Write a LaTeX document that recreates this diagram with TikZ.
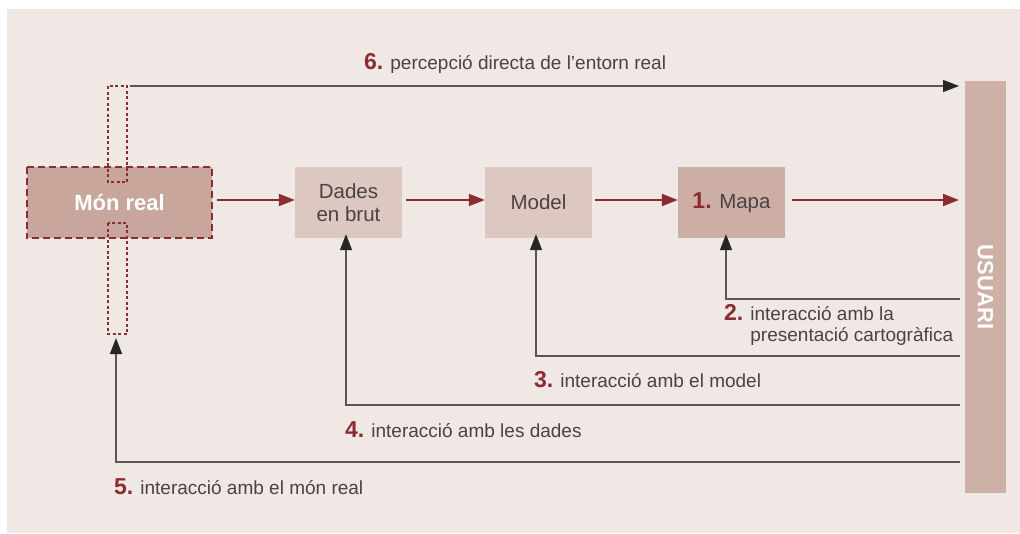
\documentclass[tikz,border=0pt]{standalone}
\usepackage{fontspec}
\setmainfont{Liberation Sans}
\usetikzlibrary{arrows.meta}
\definecolor{panel}{HTML}{F0E8E5}
\definecolor{monfill}{HTML}{C8A69B}
\definecolor{boxfill}{HTML}{DCC8C0}
\definecolor{mapfill}{HTML}{CDAEA5}
\definecolor{usrfill}{HTML}{CDB0A6}
\definecolor{redc}{HTML}{8B2C33}
\definecolor{linec}{HTML}{5A5556}
\definecolor{txtc}{HTML}{4A4244}
\begin{document}
\begin{tikzpicture}[x=1pt,y=-1pt,
  stepbox/.style={draw=none,fill=boxfill,minimum width=107pt,minimum height=71pt,inner sep=0pt,align=center,text=txtc,font=\fontsize{20.5}{23}\selectfont},
  redarrow/.style={draw=redc,line width=2pt,-{Triangle[length=16pt,width=12pt]}},
  grayarrow/.style={draw=linec,line width=1.5pt,-{Triangle[length=16pt,width=12pt,color=black!85]}},
  lbl/.style={anchor=west,inner sep=0pt,text=txtc,font=\fontsize{19}{21.5}\selectfont,align=left},
  dashbox/.style={draw=redc,line width=1.2pt,dash pattern=on 3pt off 2.5pt}]
\useasboundingbox (0,0) rectangle (1020,533);
\fill[white] (0,0) rectangle (1020,533);
\fill[panel] (7,9) rectangle (1020,533);
% boxes
\node[stepbox,fill=monfill,minimum width=185pt,text=white,font=\fontsize{22}{23}\selectfont\bfseries] (mon) at (119.5,202.5) {Món real};
\draw[redc,line width=2pt,dash pattern=on 7pt off 4pt] (mon.north west) rectangle (mon.south east);
\node[stepbox] (dades) at (348.5,202.5) {Dades\\en brut};
\node[stepbox] (model) at (538.5,202.5) {Model};
\node[stepbox,fill=mapfill] (mapa) at (731.5,202.5) {{\color{redc}\fontsize{23}{23}\selectfont\bfseries 1.} Mapa};
\node[draw=none,fill=usrfill,minimum width=41pt,minimum height=412pt,inner sep=0pt] (usr) at (985.5,287) {};
\node[rotate=-90,text=white,font=\fontsize{22}{23}\selectfont\bfseries] (usrt) at (985.5,287) {USUARI};
% dashed narrow rectangles
\draw[dashbox] (108,86) rectangle (127,182);
\draw[dashbox] (108,223) rectangle (127,334);
% coordinates
\coordinate (m0) at (217,200);
\coordinate (d0) at (406,200);
\coordinate (o0) at (595,200);
\coordinate (p0) at (792,200);
\coordinate (u1) at (959,200);
\coordinate (u6) at (959,86);
\coordinate (s6) at (130,86);
\coordinate (u2) at (960,299);
\coordinate (c2) at (726,299);
\coordinate (u3) at (960,356);
\coordinate (c3) at (536,356);
\coordinate (u4) at (960,405);
\coordinate (c4) at (346,405);
\coordinate (u5) at (960,462);
\coordinate (c5) at (116,462);
\coordinate (t5) at (116,338);
% red arrows
\draw[redarrow] (m0) -- (dades.west |- m0);
\draw[redarrow] (d0) -- (model.west |- d0);
\draw[redarrow] (o0) -- (mapa.west |- o0);
\draw[redarrow] (p0) -- (u1);
% gray connectors
\draw[grayarrow] (s6) -- (u6);
\draw[grayarrow] (u2) -- (c2) -- ([yshift=4pt]c2 |- mapa.south);
\draw[grayarrow] (u3) -- (c3) -- ([yshift=4pt]c3 |- model.south);
\draw[grayarrow] (u4) -- (c4) -- ([yshift=4pt]c4 |- dades.south);
\draw[grayarrow] (u5) -- (c5) -- (t5);
% labels
\node[lbl] (l6) at (364,63) {{\fontsize{23}{22}\selectfont\bfseries\color{redc}6.} percepció directa de l’entorn real};
\node[lbl,anchor=north west] (l2) at (724,304) {{\fontsize{23}{22}\selectfont\bfseries\color{redc}2.} interacció amb la\\\hphantom{{\fontsize{23}{22}\selectfont\bfseries 2.} }presentació cartogràfica};
\node[lbl] (l3) at (534,380) {{\fontsize{23}{22}\selectfont\bfseries\color{redc}3.} interacció amb el model};
\node[lbl] (l4) at (345,430) {{\fontsize{23}{22}\selectfont\bfseries\color{redc}4.} interacció amb les dades};
\node[lbl] (l5) at (114,487) {{\fontsize{23}{22}\selectfont\bfseries\color{redc}5.} interacció amb el món real};
\end{tikzpicture}
\end{document}
